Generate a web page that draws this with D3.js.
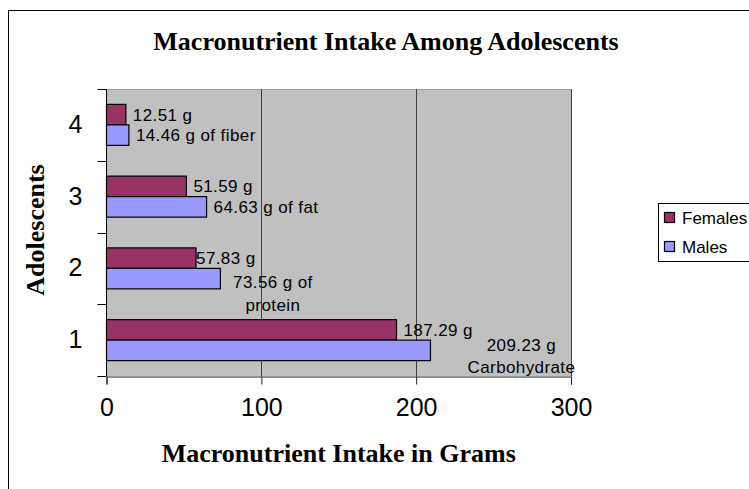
<!DOCTYPE html>
<html>
<head>
<meta charset="utf-8">
<script src="https://cdn.jsdelivr.net/npm/d3@7"></script>
<style>
  body { margin: 0; background: #fff; }
  svg { display: block; }
</style>
</head>
<body>
<div id="chart"></div>
<script>
// chart values
const adolescents = ['1', '2', '3', '4'];
const females = [187.29, 57.83, 51.59, 12.51];
const males = [209.23, 73.56, 64.63, 14.46];
const femaleLabels = ['187.29 g', '57.83 g', '51.59 g', '12.51 g'];
const maleLabels = [['209.23 g', 'Carbohydrate'], ['73.56 g of', 'protein'], ['64.63 g of fat'], ['14.46 g of fiber']];
const xTicks = [0, 100, 200, 300];
const seriesNames = ['Females', 'Males'];

const width = 749, height = 489;
const colors = { Females: '#993366', Males: '#9999ff' };

// label nudges (the reference has some labels dragged by hand)
const femaleNudge = { '2': 0 };
const maleLayout = {
  '1': { anchor: 'middle', dx: 91, lines: [-5, 17] },
  '2': { anchor: 'middle', dx: 52.5, lines: [3, 26] }
};

const svg = d3.select('#chart')
  .append('svg')
  .attr('width', width)
  .attr('height', height);

// chart area border
svg.append('rect')
  .attr('x', 8.5).attr('y', 10.5)
  .attr('width', 800).attr('height', 600)
  .attr('fill', '#fff')
  .attr('stroke', '#000');

const x = d3.scaleLinear().domain([0, 300]).range([106.5, 571]);
const y = d3.scaleBand().domain(adolescents.slice().reverse()).range([89, 376]);
const ySub = d3.scaleBand().domain(seriesNames).range([0, y.bandwidth()]).paddingOuter(0.75);

// plot area
svg.append('rect')
  .attr('x', x(0)).attr('y', 89)
  .attr('width', x(300) - x(0)).attr('height', 376 - 89)
  .attr('fill', '#c0c0c0');

svg.append('line')
  .attr('x1', x(0)).attr('x2', x(300))
  .attr('y1', 89.5).attr('y2', 89.5)
  .attr('stroke', '#a0a0a0');

// gridlines
svg.selectAll('.grid')
  .data(xTicks.slice(1))
  .enter()
  .append('line')
  .attr('class', 'grid')
  .attr('x1', d => Math.round(x(d)) + 0.5)
  .attr('x2', d => Math.round(x(d)) + 0.5)
  .attr('y1', 89).attr('y2', 376)
  .attr('stroke', '#404040');

// bars
const rows = adolescents.map((a, i) => ({ a, Females: females[i], Males: males[i], i }));

const groups = svg.selectAll('.group')
  .data(rows)
  .enter()
  .append('g')
  .attr('transform', d => `translate(0,${y(d.a)})`);

groups.selectAll('rect')
  .data(d => seriesNames.map(s => ({ s, v: d[s] })))
  .enter()
  .append('rect')
  .attr('x', x(0))
  .attr('y', d => ySub(d.s))
  .attr('width', d => x(d.v) - x(0))
  .attr('height', ySub.bandwidth())
  .attr('fill', d => colors[d.s])
  .attr('stroke', '#000')
  .attr('stroke-width', 1.2);

// x axis
const xAxis = svg.append('g')
  .attr('transform', 'translate(0,376.5)')
  .call(d3.axisBottom(x).tickValues(xTicks).tickSize(8).tickPadding(14).tickFormat(d3.format('d')));
xAxis.select('.domain').attr('stroke', '#202020');
xAxis.selectAll('.tick line').attr('stroke', '#202020');
xAxis.selectAll('text')
  .attr('font-family', 'Liberation Sans, Arial, sans-serif')
  .attr('font-size', 25)
  .attr('fill', '#000');

// y axis
const yAxis = svg.append('g')
  .attr('transform', `translate(${x(0)},0)`)
  .call(d3.axisLeft(y).tickSize(0).tickPadding(24));
yAxis.select('.domain').remove();
yAxis.append('line')
  .attr('x1', 0).attr('x2', 0).attr('y1', 89).attr('y2', 376)
  .attr('stroke', '#000');
yAxis.selectAll('.cat-tick')
  .data([89, 376].concat(adolescents.slice(1).map(a => y(a) + y.bandwidth())))
  .enter()
  .append('line')
  .attr('x1', -9).attr('x2', 0)
  .attr('y1', d => Math.round(d) + 0.5).attr('y2', d => Math.round(d) + 0.5)
  .attr('stroke', '#000');
yAxis.selectAll('text')
  .attr('font-family', 'Liberation Sans, Arial, sans-serif')
  .attr('font-size', 25)
  .attr('fill', '#000');

// data labels
const labelFont = 'Liberation Sans, Arial, sans-serif';

groups.append('text')
  .attr('x', d => x(d.Females) + (femaleNudge[d.a] !== undefined ? femaleNudge[d.a] : 7))
  .attr('y', ySub('Females') + ySub.bandwidth() / 2)
  .attr('dy', '0.35em')
  .attr('font-family', labelFont)
  .attr('font-size', 17)
  .attr('letter-spacing', 0.4)
  .attr('fill', '#000')
  .text(d => femaleLabels[d.i]);

groups.each(function(d) {
  const lay = maleLayout[d.a] || { anchor: 'start', dx: 7, lines: [0] };
  const cy = ySub('Males') + ySub.bandwidth() / 2;
  const t = d3.select(this).append('text')
    .attr('font-family', labelFont)
    .attr('font-size', 17)
    .attr('letter-spacing', 0.4)
    .attr('fill', '#000')
    .attr('text-anchor', lay.anchor);
  maleLabels[d.i].forEach((line, k) => {
    t.append('tspan')
      .attr('x', x(d.Males) + lay.dx)
      .attr('y', cy + lay.lines[k])
      .attr('dy', '0.35em')
      .text(line);
  });
});

// titles
const titleFont = 'Liberation Serif, Times New Roman, serif';

svg.append('text')
  .attr('x', 386).attr('y', 50)
  .attr('text-anchor', 'middle')
  .attr('font-family', titleFont)
  .attr('font-weight', 'bold')
  .attr('font-size', 26)
  .text('Macronutrient Intake Among Adolescents');

svg.append('text')
  .attr('x', (x(0) + x(300)) / 2).attr('y', 462)
  .attr('text-anchor', 'middle')
  .attr('font-family', titleFont)
  .attr('font-weight', 'bold')
  .attr('font-size', 26)
  .text('Macronutrient Intake in Grams');

svg.append('text')
  .attr('transform', 'translate(44,230) rotate(-90)')
  .attr('text-anchor', 'middle')
  .attr('font-family', titleFont)
  .attr('font-weight', 'bold')
  .attr('font-size', 26)
  .text('Adolescents');

// legend
const legend = svg.append('g');
legend.append('rect')
  .attr('x', 658.5).attr('y', 203.5)
  .attr('width', 120).attr('height', 58)
  .attr('fill', '#fff')
  .attr('stroke', '#000');

const legendY = d3.scalePoint().domain(seriesNames).range([218, 247]);
const items = legend.selectAll('.item')
  .data(seriesNames)
  .enter()
  .append('g')
  .attr('transform', d => `translate(0,${legendY(d)})`);

items.append('rect')
  .attr('x', 664.5).attr('y', -5.5)
  .attr('width', 10).attr('height', 10)
  .attr('fill', d => colors[d])
  .attr('stroke', '#000')
  .attr('stroke-width', 1.2);

items.append('text')
  .attr('x', 682).attr('dy', '0.35em')
  .attr('font-family', labelFont)
  .attr('font-size', 17)
  .text(d => d);
</script>
</body>
</html>
